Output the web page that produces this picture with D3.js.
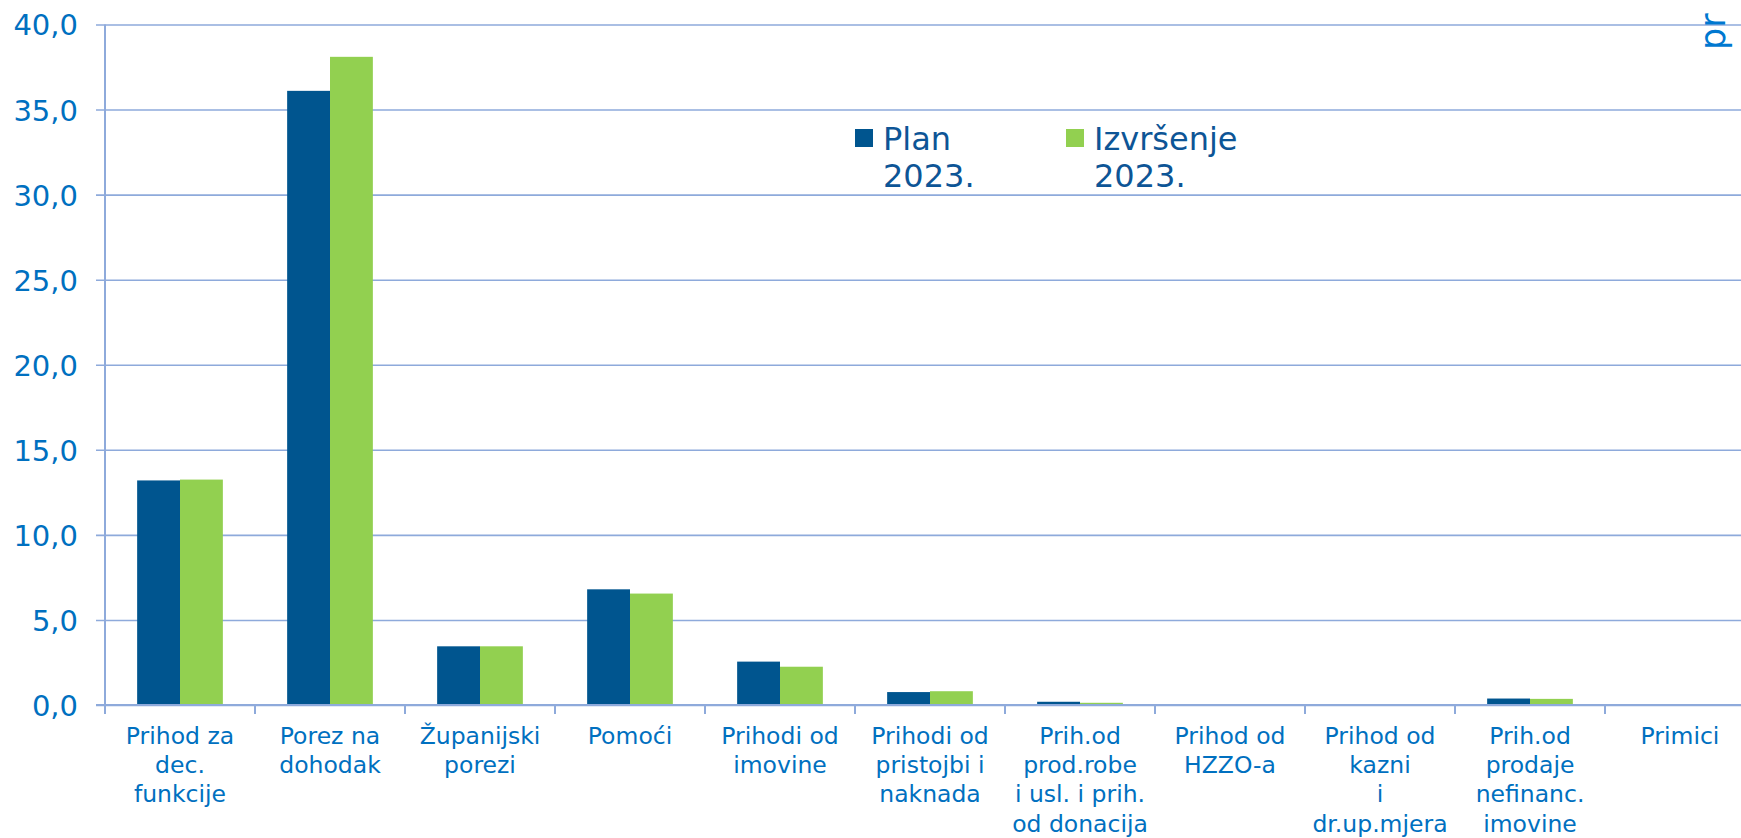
<!DOCTYPE html>
<html>
<head>
<meta charset="utf-8">
<script src="https://cdn.jsdelivr.net/npm/d3@7"></script>
<style>
  html, body { margin: 0; padding: 0; background: #fff; overflow: hidden; }
  svg { display: block; font-family: "DejaVu Sans", Verdana, sans-serif; }
</style>
</head>
<body>
<svg id="chart" width="1741" height="838"></svg>
<script>
// category labels, already broken into lines as in the original
const categories = [
    ["Prihod za", "dec.", "funkcije"],
    ["Porez na", "dohodak"],
    ["Županijski", "porezi"],
    ["Pomoći"],
    ["Prihodi od", "imovine"],
    ["Prihodi od", "pristojbi i", "naknada"],
    ["Prih.od", "prod.robe", "i usl. i prih.", "od donacija"],
    ["Prihod od", "HZZO-a"],
    ["Prihod od", "kazni", "i", "dr.up.mjera"],
    ["Prih.od", "prodaje", "nefinanc.", "imovine"],
    ["Primici"]
];
const plan2023 = [13.2, 36.1, 3.45, 6.8, 2.55, 0.76, 0.19, 0, 0.04, 0.38, 0];
const izvrsenje2023 = [13.25, 38.1, 3.45, 6.55, 2.25, 0.81, 0.13, 0, 0.03, 0.36, 0];
const seriesNames = [["Plan", "2023."], ["Izvršenje", "2023."]];
const yTicks = [0, 5, 10, 15, 20, 25, 30, 35, 40];

const colors = ["#00558f", "#92d050"];
const gridColor = "#8eaadb";
const textColor = "#0070c0";
const legendColor = "#0d5596";

const svg = d3.select("#chart");

// plot area (right side is cut off by the window like in the picture)
const plotLeft = 105, plotTop = 24.5, plotBottom = 705;
const step = 150;

const keys = categories.map((c, i) => i);
const x0 = d3.scaleBand()
    .domain(keys)
    .range([plotLeft, plotLeft + step * categories.length])
    .padding(0);

const x1 = d3.scaleBand()
    .domain([0, 1])
    .range([0, x0.bandwidth()])
    .paddingInner(0)
    .paddingOuter(0.75);

const y = d3.scaleLinear().domain([0, 40]).range([plotBottom, plotTop]);

const fmt = v => d3.format(".1f")(v).replace(".", ",");

// gridlines + y labels
const yAxis = d3.axisLeft(y)
    .tickValues(yTicks)
    .tickSize(-(1741 - plotLeft))
    .tickFormat(fmt);

const gy = svg.append("g")
    .attr("transform", `translate(${plotLeft},0)`)
    .call(yAxis);
gy.select(".domain").remove();
gy.selectAll(".tick line")
    .attr("x1", -9)
    .attr("stroke", gridColor)
    .attr("stroke-width", 1.6);
gy.selectAll(".tick text")
    .attr("x", -27)
    .attr("dy", "0.36em")
    .attr("fill", textColor)
    .attr("font-size", 29)
    .attr("font-family", "DejaVu Sans, Verdana, sans-serif");

// vertical axis line
svg.append("line")
    .attr("x1", plotLeft).attr("x2", plotLeft)
    .attr("y1", plotTop).attr("y2", plotBottom)
    .attr("stroke", gridColor)
    .attr("stroke-width", 2);

// bars
const groups = svg.append("g")
    .selectAll("g")
    .data(keys)
    .join("g")
    .attr("transform", d => `translate(${x0(d)},0)`);

groups.selectAll("rect")
    .data(i => [plan2023[i], izvrsenje2023[i]].map((v, s) => ({ v, s })))
    .join("rect")
    .attr("x", d => x1(d.s))
    .attr("width", x1.bandwidth())
    .attr("y", d => y(d.v))
    .attr("height", d => plotBottom - y(d.v))
    .attr("fill", d => colors[d.s]);

// category axis
svg.append("line")
    .attr("x1", plotLeft - 9).attr("x2", 1741)
    .attr("y1", plotBottom).attr("y2", plotBottom)
    .attr("stroke", gridColor)
    .attr("stroke-width", 2.2);

svg.append("g")
    .selectAll("line")
    .data(keys)
    .join("line")
    .attr("x1", d => x0(d)).attr("x2", d => x0(d))
    .attr("y1", plotBottom).attr("y2", plotBottom + 9)
    .attr("stroke", gridColor)
    .attr("stroke-width", 2);

const labels = svg.append("g")
    .selectAll("text")
    .data(keys)
    .join("text")
    .attr("x", d => x0(d) + x0.bandwidth() / 2)
    .attr("y", plotBottom + 39)
    .attr("text-anchor", "middle")
    .attr("fill", textColor)
    .attr("font-size", 23.5);

labels.selectAll("tspan")
    .data(d => categories[d])
    .join("tspan")
    .attr("x", function() { return this.parentNode.getAttribute("x"); })
    .attr("dy", (d, i) => i === 0 ? 0 : 29.2)
    .text(d => d);

// legend
const legend = svg.append("g");
const legendX = [855, 1066];
seriesNames.forEach((name, s) => {
    legend.append("rect")
        .attr("x", legendX[s])
        .attr("y", 129)
        .attr("width", 18)
        .attr("height", 18)
        .attr("fill", colors[s]);
    const t = legend.append("text")
        .attr("x", legendX[s] + 28)
        .attr("y", 150)
        .attr("fill", legendColor)
        .attr("font-size", 32);
    t.selectAll("tspan")
        .data(name)
        .join("tspan")
        .attr("x", legendX[s] + 28)
        .attr("dy", (d, i) => i === 0 ? 0 : 37)
        .text(d => d);
});

// clipped title fragment at the top right corner
svg.append("text")
    .attr("transform", "translate(1725,50) rotate(-90)")
    .attr("fill", "#0078d0")
    .attr("font-size", 35)
    .text("pr");
</script>
</body>
</html>
